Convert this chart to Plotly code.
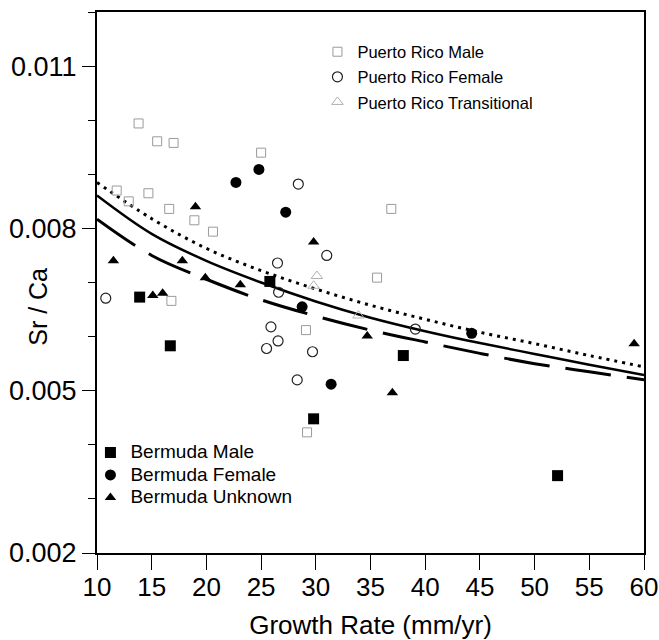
"""Sr/Ca against coral growth rate, Puerto Rico vs Bermuda samples, with three fit curves."""
import plotly.graph_objects as go

# Puerto Rico samples (open / faint markers)
pr_male_x = [11.8, 12.9, 13.8, 14.7, 15.5, 16.6, 17.0, 16.8, 18.9, 20.6, 25.0, 29.1, 29.2, 35.6, 36.9]
pr_male_y = [0.0087, 0.0085, 0.00994, 0.00865, 0.00961, 0.00836, 0.00958, 0.00666, 0.00815,
             0.00794, 0.0094, 0.00612, 0.00423, 0.00709, 0.00836]
pr_female_x = [10.8, 25.5, 25.9, 26.55, 26.5, 26.6, 28.3, 28.4, 29.7, 31.0, 39.1]
pr_female_y = [0.00671, 0.00578, 0.00618, 0.00592, 0.00736, 0.00682, 0.0052, 0.00882, 0.00572,
               0.0075, 0.00614]
pr_trans_x = [29.8, 30.1, 33.9]
pr_trans_y = [0.00694, 0.00712, 0.00639]

# Bermuda samples (filled markers)
bda_male_x = [13.9, 16.7, 25.8, 29.8, 38.0, 52.1]
bda_male_y = [0.00673, 0.00583, 0.00702, 0.00448, 0.00565, 0.00343]
bda_female_x = [22.7, 24.8, 27.25, 28.75, 31.4, 44.25]
bda_female_y = [0.00885, 0.00909, 0.0083, 0.00655, 0.00512, 0.00606]
bda_unknown_x = [11.5, 15.1, 16.0, 17.8, 19.0, 19.9, 23.1, 29.8, 34.7, 37.0, 59.1]
bda_unknown_y = [0.0074, 0.00676, 0.0068, 0.0074, 0.0084, 0.00709, 0.00696, 0.00775, 0.00601,
                 0.00496, 0.00587]

# fit curves, every 5 mm/yr
fit_x = [10, 15, 20, 25, 30, 35, 40, 45, 50, 55, 60]
fit_solid = [0.00861, 0.0079, 0.0074, 0.0070, 0.00665, 0.00635, 0.0061, 0.00588, 0.00568, 0.00548, 0.00529]
fit_dotted = [0.00885, 0.00818, 0.00763, 0.00722, 0.00688, 0.00658, 0.00632, 0.00608, 0.00587, 0.00565, 0.00544]
fit_dashed = [0.00817, 0.0075, 0.00706, 0.00668, 0.00638, 0.00612, 0.0059, 0.00569, 0.0055, 0.00535, 0.0052]

x_ticks = [10, 15, 20, 25, 30, 35, 40, 45, 50, 55, 60]
y_ticks = [0.002, 0.005, 0.008, 0.011]

FONT = "Liberation Sans, Arial, Helvetica, sans-serif"

fig = go.Figure()

for y, dash, width in [(fit_dotted, "3px,5px", 3), (fit_solid, "solid", 2.5), (fit_dashed, "46px,16px", 3)]:
    fig.add_trace(go.Scatter(
        x=fit_x, y=y, mode="lines", line=dict(color="black", width=width, dash=dash, shape="spline"),
        showlegend=False, hoverinfo="skip",
    ))


def pts(name, x, y, symbol, size, color, lw, legend, textsize):
    # legend row spacing comes from the legend font; the label itself is drawn a bit larger
    return go.Scatter(
        x=x, y=y, mode="markers", legend=legend, legendgroup=name,
        name=f'<span style="font-size:{textsize}px">{name}</span>',
        marker=dict(symbol=symbol, size=size, color=color, line=dict(color=color, width=lw)),
    )


fig.add_trace(pts("Puerto Rico Male", pr_male_x, pr_male_y, "square-open", 9, "#9a9a9a", 1, "legend", 16.5))
fig.add_trace(pts("Puerto Rico Female", pr_female_x, pr_female_y, "circle-open", 10, "#222222", 1.2, "legend", 16.5))
fig.add_trace(pts("Puerto Rico Transitional", pr_trans_x, pr_trans_y, "triangle-up-open", 10, "#b0b0b0", 1, "legend", 16.5))
fig.add_trace(pts("Bermuda Male", bda_male_x, bda_male_y, "square", 11, "black", 0, "legend2", 19))
fig.add_trace(pts("Bermuda Female", bda_female_x, bda_female_y, "circle", 11, "black", 0, "legend2", 19))
fig.add_trace(pts("Bermuda Unknown", bda_unknown_x, bda_unknown_y, "triangle-up", 10, "black", 0, "legend2", 19))

axis_common = dict(
    showline=True, linecolor="black", linewidth=2, mirror=True, showgrid=False, zeroline=False,
    ticks="outside", tickwidth=1, tickcolor="black", automargin=False,
)
fig.update_xaxes(
    range=[10, 60], tickvals=x_ticks, ticklen=15, ticklabelstandoff=-5,
    tickfont=dict(size=26, color="black", family=FONT),
    title=dict(text="Growth Rate (mm/yr)", font=dict(size=26, color="black", family=FONT), standoff=22),
    **axis_common,
)
fig.update_yaxes(
    range=[0.002, 0.012], tickvals=y_ticks, ticktext=[f"{v:.3f}" for v in y_ticks], ticklen=13,
    tickfont=dict(size=27, color="black", family=FONT),
    minor=dict(dtick=0.001, tick0=0.002, ticks="outside", ticklen=7, tickcolor="black", tickwidth=1),
    **axis_common,
)

# y title sits closer to the axis than plotly's own title would
fig.add_annotation(
    text="Sr / Ca", textangle=-90, showarrow=False,
    xref="paper", yref="paper", x=-0.108, y=0.455, xanchor="center", yanchor="middle",
    font=dict(size=25, color="black", family=FONT),
)

legend_common = dict(
    bgcolor="rgba(0,0,0,0)", borderwidth=0, xanchor="left", yanchor="top",
    itemclick=False, itemdoubleclick=False, tracegroupgap=0,
)
fig.update_layout(
    width=659, height=640,
    margin=dict(l=97, r=15, t=12, b=87),
    plot_bgcolor="white", paper_bgcolor="white",
    font=dict(family=FONT, color="black"),
    legend=dict(x=0.403, y=0.959, font=dict(size=17, color="black", family=FONT), **legend_common),
    legend2=dict(x=-0.012, y=0.216, font=dict(size=15, color="black", family=FONT), **legend_common),
)

fig.write_html("out.html", config={"displayModeBar": False},
               post_script="document.body.style.margin='0';")
